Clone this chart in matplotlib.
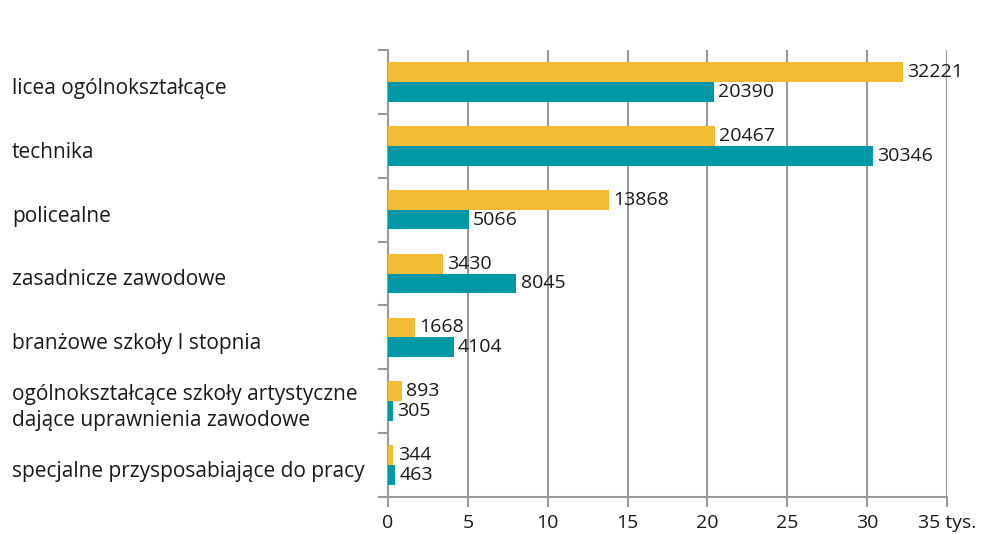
import matplotlib.pyplot as plt
import matplotlib.transforms as mtransforms
import numpy as np

plt.rcParams['font.family'] = ['Open Sans', 'DejaVu Sans']

# ─── Data ─────────────────────────────────────────────────────────────────────
categories = [
    "licea ogólnokształcące",
    "technika",
    "policealne",
    "zasadnicze zawodowe",
    "branżowe szkoły I stopnia",
    "ogólnokształcące szkoły artystyczne\ndające uprawnienia zawodowe",
    "specjalne przysposabiające do pracy",
]
series_a = [32221, 20467, 13868, 3430, 1668, 893, 344]   # yellow
series_b = [20390, 30346, 5066, 8045, 4104, 305, 463]    # teal
xticks = [0, 5, 10, 15, 20, 25, 30, 35]
xticklabels = ["0", "5", "10", "15", "20", "25", "30", "35 tys."]

YELLOW = "#F2BC33"
TEAL = "#0098A4"
GREY = "#9a9a9a"
FS_CAT = 15
FS_VAL = 14

fig = plt.figure(figsize=(9.88, 5.34), dpi=100)
ax = fig.add_axes([388 / 988, 1 - 497 / 534, 559 / 988, 447 / 534])

y = np.arange(len(categories))
h = 0.31
a = np.array(series_a) / 1000
b = np.array(series_b) / 1000
ax.barh(y - h / 2, a, height=h, color=YELLOW, zorder=3)
ax.barh(y + h / 2, b, height=h, color=TEAL, zorder=3)

for yi, v, raw in zip(y - h / 2, a, series_a):
    ax.annotate(str(raw), (v, yi), xytext=(3, 0), textcoords="offset points",
                va="center", ha="left", fontsize=FS_VAL, color="#1a1a1a")
for yi, v, raw in zip(y + h / 2, b, series_b):
    ax.annotate(str(raw), (v, yi), xytext=(3, 0), textcoords="offset points",
                va="center", ha="left", fontsize=FS_VAL, color="#1a1a1a")

ax.set_xlim(0, 35)
ax.set_ylim(len(categories) - 0.5, -0.5)

ax.set_xticks(xticks)
ax.set_xticklabels(xticklabels, fontsize=FS_VAL, color="#1a1a1a")
ax.set_yticks(np.arange(len(categories) + 1) - 0.5)
ax.set_yticklabels([])
ax.tick_params(axis="x", length=7, width=1.5, color=GREY, pad=5)
ax.tick_params(axis="y", length=7, width=1.5, color=GREY)

ax.grid(axis="x", color=GREY, linewidth=1.5, zorder=0)
for s in ["top", "right"]:
    ax.spines[s].set_visible(False)
for s in ["left", "bottom"]:
    ax.spines[s].set_color(GREY)
    ax.spines[s].set_linewidth(1.5)

trans = mtransforms.blended_transform_factory(fig.transFigure, ax.transData)
for i, name in enumerate(categories):
    ax.text(12 / 988, i + 0.1, name, transform=trans, ha="left", va="center",
            fontsize=FS_CAT, color="#1a1a1a", linespacing=1.3)

fig.savefig("out.png", dpi=100)
